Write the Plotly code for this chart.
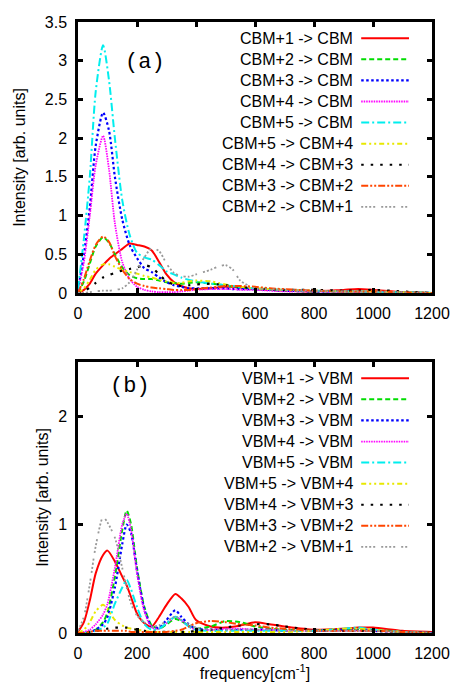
import plotly.graph_objects as go

# ---------------- data ----------------
FREQ_A = [0, 20, 40, 60, 85, 105, 125, 150, 175, 200, 225, 250, 275, 300, 325, 350,
          375, 400, 450, 475, 500, 525, 550, 600, 650, 700, 800, 900, 950, 1000, 1100, 1200]

CBM1_CBM = [0.0, 0.04, 0.12, 0.25, 0.36, 0.44, 0.5, 0.57, 0.64, 0.62, 0.6, 0.55, 0.4, 0.24, 0.14, 0.09,
            0.06, 0.05, 0.06, 0.07, 0.08, 0.08, 0.07, 0.05, 0.04, 0.03, 0.02, 0.04, 0.05, 0.04, 0.01, 0.0]
CBM2_CBM = [0.0, 0.15, 0.38, 0.6, 0.72, 0.65, 0.5, 0.33, 0.23, 0.19, 0.18, 0.18, 0.16, 0.14, 0.13, 0.12,
            0.13, 0.14, 0.12, 0.11, 0.1, 0.08, 0.07, 0.05, 0.04, 0.03, 0.02, 0.02, 0.02, 0.01, 0.01, 0.0]
CBM3_CBM = [0.04, 0.5, 1.1, 1.9, 2.33, 2.1, 1.5, 0.95, 0.62, 0.45, 0.32, 0.27, 0.2, 0.14, 0.1, 0.08,
            0.06, 0.06, 0.06, 0.06, 0.06, 0.05, 0.05, 0.05, 0.04, 0.03, 0.02, 0.02, 0.02, 0.01, 0.01, 0.0]
CBM4_CBM = [0.03, 0.4, 1.0, 1.65, 2.03, 1.6, 0.9, 0.4, 0.18, 0.08, 0.04, 0.02, 0.01, 0.01, 0.01, 0.02,
            0.03, 0.04, 0.05, 0.05, 0.05, 0.05, 0.04, 0.04, 0.03, 0.02, 0.02, 0.01, 0.01, 0.01, 0.0, 0.0]
CBM5_CBM = [0.05, 0.7, 1.5, 2.6, 3.2, 2.75, 2.0, 1.2, 0.75, 0.52, 0.46, 0.43, 0.36, 0.28, 0.24, 0.2,
            0.17, 0.15, 0.12, 0.11, 0.1, 0.09, 0.08, 0.06, 0.05, 0.04, 0.03, 0.02, 0.02, 0.01, 0.01, 0.0]
CBM5_CBM4 = [0.0, 0.06, 0.17, 0.3, 0.37, 0.37, 0.34, 0.3, 0.27, 0.25, 0.22, 0.2, 0.17, 0.15, 0.13, 0.13,
             0.15, 0.16, 0.15, 0.13, 0.11, 0.09, 0.08, 0.06, 0.05, 0.04, 0.03, 0.02, 0.02, 0.02, 0.01, 0.0]
CBM4_CBM3 = [0.0, 0.02, 0.07, 0.13, 0.2, 0.23, 0.26, 0.29, 0.31, 0.33, 0.36, 0.33, 0.24, 0.15, 0.11, 0.09,
             0.1, 0.11, 0.12, 0.11, 0.1, 0.09, 0.08, 0.06, 0.05, 0.04, 0.04, 0.03, 0.03, 0.04, 0.02, 0.0]
CBM3_CBM2 = [0.0, 0.18, 0.42, 0.62, 0.73, 0.66, 0.48, 0.3, 0.18, 0.12, 0.09, 0.07, 0.06, 0.05, 0.04, 0.04,
             0.04, 0.05, 0.07, 0.08, 0.09, 0.09, 0.09, 0.08, 0.06, 0.05, 0.03, 0.02, 0.02, 0.02, 0.01, 0.0]
CBM2_CBM1 = [0.0, 0.0, 0.01, 0.02, 0.03, 0.03, 0.04, 0.06, 0.14, 0.3, 0.46, 0.58, 0.54, 0.38, 0.26, 0.22,
             0.21, 0.24, 0.3, 0.34, 0.36, 0.3, 0.16, 0.06, 0.05, 0.04, 0.03, 0.02, 0.02, 0.02, 0.01, 0.0]

FREQ_B = [0, 20, 40, 60, 85, 100, 125, 150, 165, 180, 200, 225, 250, 275, 300, 330,
          350, 375, 400, 450, 500, 550, 600, 650, 700, 800, 900, 950, 1000, 1100, 1200]

VBM1_VBM = [0.01, 0.1, 0.3, 0.55, 0.72, 0.76, 0.66, 0.52, 0.44, 0.33, 0.18, 0.09, 0.06, 0.15, 0.26, 0.36,
            0.32, 0.24, 0.12, 0.06, 0.05, 0.07, 0.1, 0.08, 0.06, 0.03, 0.04, 0.05, 0.05, 0.02, 0.01]
VBM2_VBM = [0, 0, 0.01, 0.03, 0.1, 0.19, 0.52, 0.95, 1.13, 1.0, 0.6, 0.24, 0.07, 0.04, 0.08, 0.13,
            0.11, 0.07, 0.04, 0.06, 0.11, 0.1, 0.06, 0.04, 0.03, 0.02, 0.03, 0.03, 0.03, 0.01, 0]
VBM3_VBM = [0, 0, 0.01, 0.03, 0.08, 0.15, 0.42, 0.82, 1.0, 0.92, 0.58, 0.22, 0.06, 0.05, 0.12, 0.21,
            0.15, 0.08, 0.04, 0.03, 0.03, 0.03, 0.03, 0.03, 0.02, 0.02, 0.03, 0.03, 0.02, 0.01, 0]
VBM4_VBM = [0, 0.01, 0.03, 0.08, 0.17, 0.27, 0.6, 1.0, 1.1, 0.95, 0.55, 0.2, 0.05, 0.04, 0.09, 0.15,
            0.12, 0.06, 0.03, 0.03, 0.04, 0.04, 0.03, 0.03, 0.02, 0.02, 0.02, 0.02, 0.02, 0.01, 0]
VBM5_VBM = [0, 0, 0.01, 0.02, 0.05, 0.09, 0.27, 0.42, 0.49, 0.4, 0.24, 0.08, 0.03, 0.04, 0.09, 0.15,
            0.12, 0.06, 0.03, 0.02, 0.02, 0.02, 0.02, 0.02, 0.02, 0.02, 0.04, 0.05, 0.03, 0.01, 0]
VBM5_VBM4 = [0, 0.03, 0.1, 0.2, 0.26, 0.22, 0.12, 0.07, 0.05, 0.04, 0.03, 0.02, 0.01, 0.01, 0.01, 0.01,
             0.01, 0.01, 0.01, 0.01, 0.01, 0.01, 0.01, 0.01, 0.01, 0.02, 0.04, 0.04, 0.03, 0.01, 0]
VBM4_VBM3 = [0, 0, 0.01, 0.02, 0.03, 0.04, 0.05, 0.05, 0.05, 0.04, 0.03, 0.02, 0.01, 0.01, 0.01, 0.01,
             0.01, 0.01, 0.02, 0.03, 0.05, 0.07, 0.08, 0.08, 0.06, 0.03, 0.02, 0.02, 0.02, 0.01, 0]
VBM3_VBM2 = [0, 0, 0.01, 0.02, 0.02, 0.02, 0.02, 0.02, 0.02, 0.01, 0.01, 0.01, 0.01, 0.01, 0.01, 0.02,
             0.03, 0.06, 0.09, 0.11, 0.1, 0.08, 0.07, 0.05, 0.04, 0.02, 0.02, 0.02, 0.02, 0.01, 0]
VBM2_VBM1 = [0.02, 0.15, 0.45, 0.8, 1.07, 1.02, 0.88, 0.6, 0.42, 0.27, 0.16, 0.1, 0.06, 0.07, 0.11, 0.15,
             0.12, 0.08, 0.05, 0.03, 0.03, 0.03, 0.03, 0.03, 0.02, 0.02, 0.02, 0.02, 0.02, 0.01, 0]

LABELS_A = ["CBM+1 -> CBM", "CBM+2 -> CBM", "CBM+3 -> CBM", "CBM+4 -> CBM", "CBM+5 -> CBM",
            "CBM+5 -> CBM+4", "CBM+4 -> CBM+3", "CBM+3 -> CBM+2", "CBM+2 -> CBM+1"]
LABELS_B = ["VBM+1 -> VBM", "VBM+2 -> VBM", "VBM+3 -> VBM", "VBM+4 -> VBM", "VBM+5 -> VBM",
            "VBM+5 -> VBM+4", "VBM+4 -> VBM+3", "VBM+3 -> VBM+2", "VBM+2 -> VBM+1"]
SERIES_A = [CBM1_CBM, CBM2_CBM, CBM3_CBM, CBM4_CBM, CBM5_CBM, CBM5_CBM4, CBM4_CBM3, CBM3_CBM2, CBM2_CBM1]
SERIES_B = [VBM1_VBM, VBM2_VBM, VBM3_VBM, VBM4_VBM, VBM5_VBM, VBM5_VBM4, VBM4_VBM3, VBM3_VBM2, VBM2_VBM1]

X_TICKS = [0, 200, 400, 600, 800, 1000, 1200]
Y_TICKS_A = [0, 0.5, 1, 1.5, 2, 2.5, 3, 3.5]
Y_TICKS_B = [0, 1, 2]

# ---------------- styles ----------------
COLORS = ["#ff0000", "#00dd00", "#0000ff", "#ff00ff", "#00eeee",
          "#e8e800", "#000000", "#ff4500", "#999999"]
DASHES = ["solid", "5px,3px", "2.5px,2.5px", "1.5px,1px", "8px,3px,2px,3px",
          "5px,3px,2px,3px,2px,3px", "2.5px,7px", "7px,2px,2px,2px,2px,2px",
          "2px,2px,2px,2px,2px,2px,2px,6px"]
WIDTHS = [2, 2, 2.2, 1.8, 2, 2, 2.2, 2, 1.8]

FONT = "Liberation Sans, Arial, sans-serif"
FS = 16

fig = go.Figure()
for i, ys in enumerate(SERIES_A):
    fig.add_trace(go.Scatter(x=FREQ_A, y=ys, mode="lines", name=LABELS_A[i],
                             line=dict(color=COLORS[i], dash=DASHES[i], width=WIDTHS[i],
                                       shape="spline", smoothing=0.7),
                             xaxis="x", yaxis="y", showlegend=False))
for i, ys in enumerate(SERIES_B):
    fig.add_trace(go.Scatter(x=FREQ_B, y=ys, mode="lines", name=LABELS_B[i],
                             line=dict(color=COLORS[i], dash=DASHES[i], width=WIDTHS[i],
                                       shape="spline", smoothing=0.7),
                             xaxis="x2", yaxis="y2", showlegend=False))

axis_common = dict(showline=True, mirror="ticks", linecolor="black", linewidth=2.5,
                   ticks="inside", ticklen=5, tickwidth=2.5, tickcolor="black",
                   showgrid=False, zeroline=False, automargin=False,
                   tickfont=dict(family=FONT, size=FS, color="black"))

shapes = []
annotations = []
for (labels, xr, yr) in [(LABELS_A, "x domain", "y domain"), (LABELS_B, "x2 domain", "y2 domain")]:
    y0 = 0.940
    step = 0.0778
    for i, lab in enumerate(labels):
        yy = y0 - i * step
        annotations.append(dict(text=lab, xref=xr, yref=yr, x=0.782, y=yy,
                                xanchor="right", yanchor="middle", showarrow=False,
                                font=dict(family=FONT, size=FS, color="black")))
        shapes.append(dict(type="line", xref=xr, yref=yr, x0=0.80, x1=0.935, y0=yy, y1=yy,
                           line=dict(color=COLORS[i], dash=DASHES[i], width=WIDTHS[i])))

annotations.append(dict(text="(a)", xref="x domain", yref="y domain", x=0.19, y=0.85,
                        xanchor="center", yanchor="middle", showarrow=False,
                        font=dict(family="Liberation Mono, Courier New, monospace", size=22, color="black")))
annotations.append(dict(text="(b)", xref="x2 domain", yref="y2 domain", x=0.147, y=0.908,
                        xanchor="center", yanchor="middle", showarrow=False,
                        font=dict(family="Liberation Mono, Courier New, monospace", size=22, color="black")))

fig.update_layout(
    width=455, height=682,
    margin=dict(l=78, r=23, t=22, b=49),
    paper_bgcolor="white", plot_bgcolor="white",
    font=dict(family=FONT, size=FS, color="black"),
    xaxis=dict(domain=[0, 1], range=[0, 1200], tickvals=X_TICKS, anchor="y",
               ticklabelstandoff=4, **axis_common),
    yaxis=dict(domain=[0.5565, 1.0], range=[0, 3.5], tickvals=Y_TICKS_A, anchor="x",
               ticklabelstandoff=5,
               title=dict(text="Intensity [arb. units]", standoff=16,
                          font=dict(family=FONT, size=FS)), **axis_common),
    xaxis2=dict(domain=[0, 1], range=[0, 1200], tickvals=X_TICKS, anchor="y2",
                ticklabelstandoff=4,
                title=dict(text="frequency[cm<sup>-1</sup>]", standoff=2,
                           font=dict(family=FONT, size=FS)), **axis_common),
    yaxis2=dict(domain=[0, 0.4435], range=[0, 2.5], tickvals=Y_TICKS_B, anchor="x2",
                ticklabelstandoff=5,
                title=dict(text="Intensity [arb. units]", standoff=6,
                           font=dict(family=FONT, size=FS)), **axis_common),
    shapes=shapes, annotations=annotations,
)

fig.write_html("out.html")
